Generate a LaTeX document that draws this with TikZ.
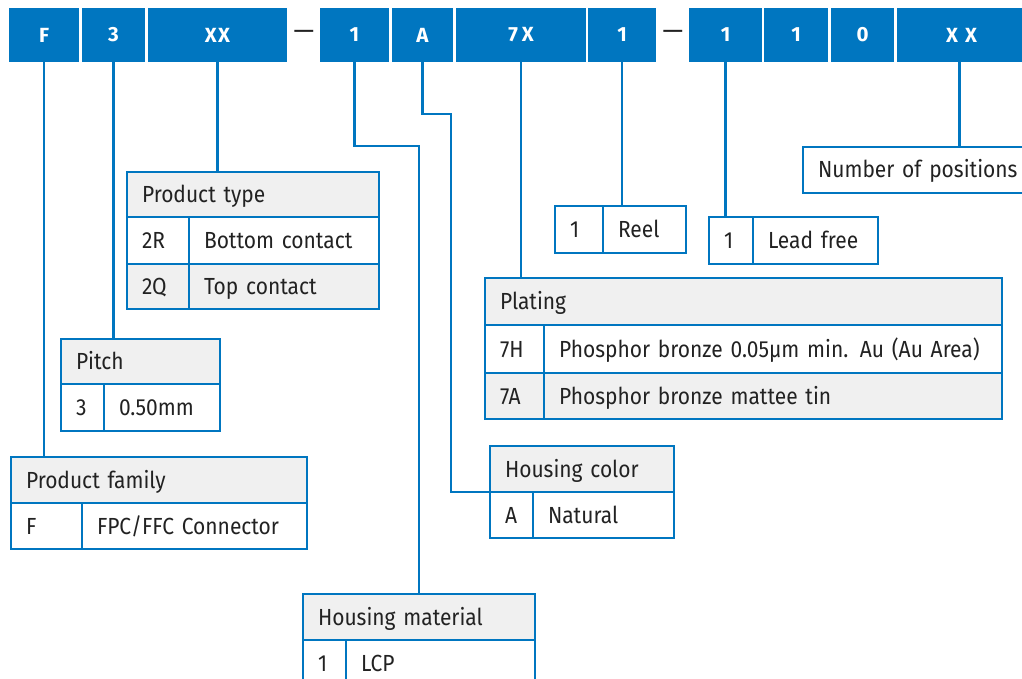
\documentclass[tikz,border=0pt]{standalone}
\usepackage{fontspec}
\setmainfont{Fira Sans}
\newfontfamily\bodyfont{Fira Sans}[FakeStretch=0.9]
\definecolor{iblue}{RGB}{0,118,192}
\definecolor{hgray}{RGB}{240,240,240}
\definecolor{ink}{RGB}{34,34,34}
\newcommand\tcell[7]{%
  \node[cell, fill=#6, minimum width={#4-#2}, minimum height={#5-#3},
        text width={#4-#2-30}, anchor=north west] (#1) at (#2,#3) {#7};}
\newcommand\tbox[6]{%
  \node[topbox, minimum width={#4-#2}, minimum height={#5-#3},
        anchor=north west] (#1) at (#2,#3) {#6};}
\begin{document}
\begin{tikzpicture}[x=1pt,y=-1pt,
  cell/.style={draw=iblue, line width=2.4pt, inner xsep=15pt, inner ysep=0pt,
    outer sep=0pt, align=left, text height=16pt, text depth=0pt,
    font=\bodyfont\fontsize{23.3}{26}\selectfont, text=ink},
  topbox/.style={fill=iblue, inner sep=0pt, outer sep=0pt, text=white,
    font=\fontsize{20.5}{24}\selectfont\bfseries},
  dashnode/.style={inner sep=0pt, text=ink, font=\fontsize{26}{28}\selectfont},
  conn/.style={draw=iblue, line width=2.4pt}]
\clip (0,0) rectangle (1022,679);
\fill[white] (0,0) rectangle (1022,679);
% top code boxes
\tbox{tF}{9}{8}{79}{62}{F}
\tbox{t3}{82}{8}{145}{62}{3}
\tbox{tXX}{148}{8}{287}{62}{X\kern1.5pt X}
\node[dashnode] (d1) at (304,35) {—};
\tbox{t1}{320}{8}{389}{62}{1}
\tbox{tA}{392}{8}{453}{62}{A}
\tbox{t7X}{456}{8}{586}{62}{7\kern4pt X}
\tbox{t1b}{588}{8}{656}{62}{1}
\node[dashnode] (d2) at (673,35) {—};
\tbox{t1c}{689}{8}{762}{62}{1}
\tbox{t1d}{764}{8}{828}{62}{1}
\tbox{t0}{831}{8}{894}{62}{0}
\tbox{tXXb}{897}{8}{1022}{62}{\kern4pt X\kern7pt X}
% Product type
\tcell{pth}{127}{172}{379}{217}{hgray}{Product type}
\tcell{ptk1}{127}{217}{189}{264}{white}{2R}
\tcell{ptv1}{189}{217}{379}{264}{white}{Bottom contact}
\tcell{ptk2}{127}{264}{189}{309}{hgray}{2Q}
\tcell{ptv2}{189}{264}{379}{309}{hgray}{Top contact}
% Pitch
\tcell{pih}{61}{339}{220}{384}{hgray}{Pitch}
\tcell{pik}{61}{384}{104}{431}{white}{3}
\tcell{piv}{104}{384}{220}{431}{white}{0.50mm}
% Product family
\tcell{pfh}{11}{457}{307}{503}{hgray}{Product family}
\tcell{pfk}{11}{503}{82}{549}{white}{F}
\tcell{pfv}{82}{503}{307}{549}{white}{FPC/FFC Connector}
% Housing material
\tcell{hmh}{303}{594}{535}{640}{hgray}{Housing material}
\tcell{hmk}{303}{640}{346}{687}{white}{1}
\tcell{hmv}{346}{640}{535}{687}{white}{LCP}
% Housing color
\tcell{hch}{490}{446}{674}{492}{hgray}{Housing color}
\tcell{hck}{490}{492}{533}{538}{white}{A}
\tcell{hcv}{533}{492}{674}{538}{white}{Natural}
% Plating
\tcell{plh}{485}{278}{1002}{325}{hgray}{Plating}
\tcell{plk1}{485}{325}{544}{373}{white}{7H}
\tcell{plv1}{544}{325}{1002}{373}{white}{Phosphor bronze 0.05µm min. Au (Au Area)}
\tcell{plk2}{485}{373}{544}{419}{hgray}{7A}
\tcell{plv2}{544}{373}{1002}{419}{hgray}{Phosphor bronze mattee tin}
% Reel
\tcell{rek}{555}{206}{603}{253}{white}{1}
\tcell{rev}{603}{206}{686}{253}{white}{Reel}
% Lead free
\tcell{lfk}{709}{217}{753}{264}{white}{1}
\tcell{lfv}{753}{217}{878}{264}{white}{Lead free}
% Number of positions
\tcell{np}{803}{147}{1040}{193}{white}{Number of positions}
% connectors
\draw[conn] (tF.south) -- (tF.south |- pfh.north);
\draw[conn] (t3.south) -- (t3.south |- pih.north);
\draw[conn] (tXX.south) -- (tXX.south |- pth.north);
\coordinate (k1) at (354,146);
\draw[conn] (t1.south) -- (t1.south |- k1) -| (hmh.north);
\coordinate (kA) at (451,114);
\draw[conn] (tA.south) -- (tA.south |- kA) -| (kA |- hch.south) -- (hch.south west);
\draw[conn] (t7X.south) -- (t7X.south |- plh.north);
\draw[conn] (t1b.south) -- (t1b.south |- rek.north);
\draw[conn] (t1c.south) -- (t1c.south |- lfk.north);
\draw[conn] (tXXb.south) -- (tXXb.south |- np.north);
\end{tikzpicture}
\end{document}
